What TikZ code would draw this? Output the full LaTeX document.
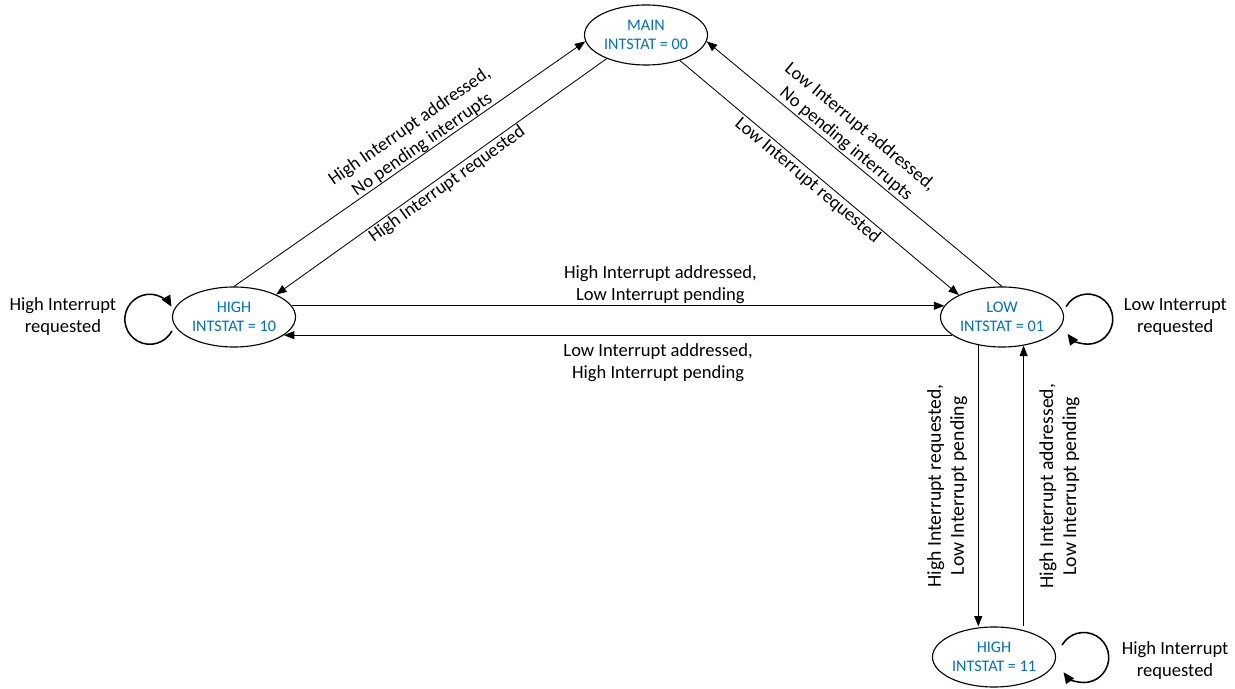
\documentclass[tikz,border=0pt]{standalone}
\usepackage{fontspec}
\setmainfont{Carlito}
\usepackage{tikz}
\usetikzlibrary{
    arrows.meta,
    positioning,
    shapes.geometric
}
\definecolor{StateBlue}{RGB}{0,112,192}
\tikzset{
  state/.style   = {draw, ellipse, line width=0.8pt, minimum width=3.075cm,
                    minimum height=1.5cm, inner sep=0pt, align=center,
                    text=StateBlue, font=\fontsize{11.5}{13.5}\selectfont},
  lbl/.style     = {align=center, inner sep=1pt,
                    font=\fontsize{13.2}{15.6}\selectfont},
  vlbl/.style    = {lbl, font=\fontsize{14}{16.4}\selectfont},
  arr/.style     = {-{Triangle[length=2.6mm,width=2mm]}, line width=0.6pt},
  rarr/.style    = {{Triangle[length=2.6mm,width=2mm]}-, line width=0.6pt},
  selfarr/.style = {-{Triangle[length=2.8mm,width=2.4mm]}, line width=1.1pt}
}

\begin{document}
\begin{tikzpicture}[x=0.025cm, y=0.025cm]
\useasboundingbox (0,0) rectangle (1235,689);
\node[state] (main)   at (646,654) {MAIN\\INTSTAT = 00};
\node[state] (high)   at (234,372) {HIGH\\INTSTAT = 10};
\node[state] (low)    at (1002,372) {LOW\\INTSTAT = 01};
\node[state] (hihigh) at (994,32)  {HIGH\\INTSTAT = 11};
\draw[arr]  (high.north) -- node[lbl,above,sloped,pos=0.55,inner sep=0pt]{High Interrupt addressed,\\No pending interrupts} (main.186);
\draw[rarr] (high.28)    -- node[lbl,below,sloped]{High Interrupt requested} (main.211);
\draw[arr]  (main.323)   -- node[lbl,below,sloped,pos=0.48]{Low Interrupt requested} (low.153);
\draw[rarr] (main.354)   -- node[lbl,above,sloped,pos=0.45]{Low Interrupt addressed,\\No pending interrupts} (low.north);
\draw[arr]  (high.11)    -- node[lbl,above,pos=0.565]{High Interrupt addressed,\\Low Interrupt pending} (low.169);
\draw[rarr] (high.340)   -- node[lbl,below,pos=0.56,inner sep=6pt]{Low Interrupt addressed,\\High Interrupt pending} (low.200);
\draw[rarr] (low.230 |- hihigh.north) -- node[vlbl,above,sloped,inner sep=7.5pt]{High Interrupt requested,\\Low Interrupt pending} (low.230);
\draw[arr]  (hihigh.north -| low.307) -- node[vlbl,below,sloped,inner sep=11pt]{High Interrupt addressed,\\Low Interrupt pending} (low.307);
% self loops
\draw[selfarr] ([yshift=-0.35cm]high.west) arc[start angle=-28, end angle=-330, radius=0.625cm];
\draw[selfarr] ([xshift=0.05cm,yshift=0.26cm]low.east) arc[start angle=150, end angle=-144, radius=0.625cm];
\draw[selfarr] ([xshift=0.15cm,yshift=0.3cm]hihigh.east) arc[start angle=150, end angle=-144, radius=0.625cm];
\node[lbl,left=1.35cm of high]  (highlbl)   {High Interrupt\\requested};
\node[lbl,right=1.45cm of low]  (lowlbl)    {Low Interrupt\\requested};
\node[lbl,right=1.6cm of hihigh,yshift=-0.1cm] (hihighlbl) {High Interrupt\\requested};
\end{tikzpicture}
\end{document}
